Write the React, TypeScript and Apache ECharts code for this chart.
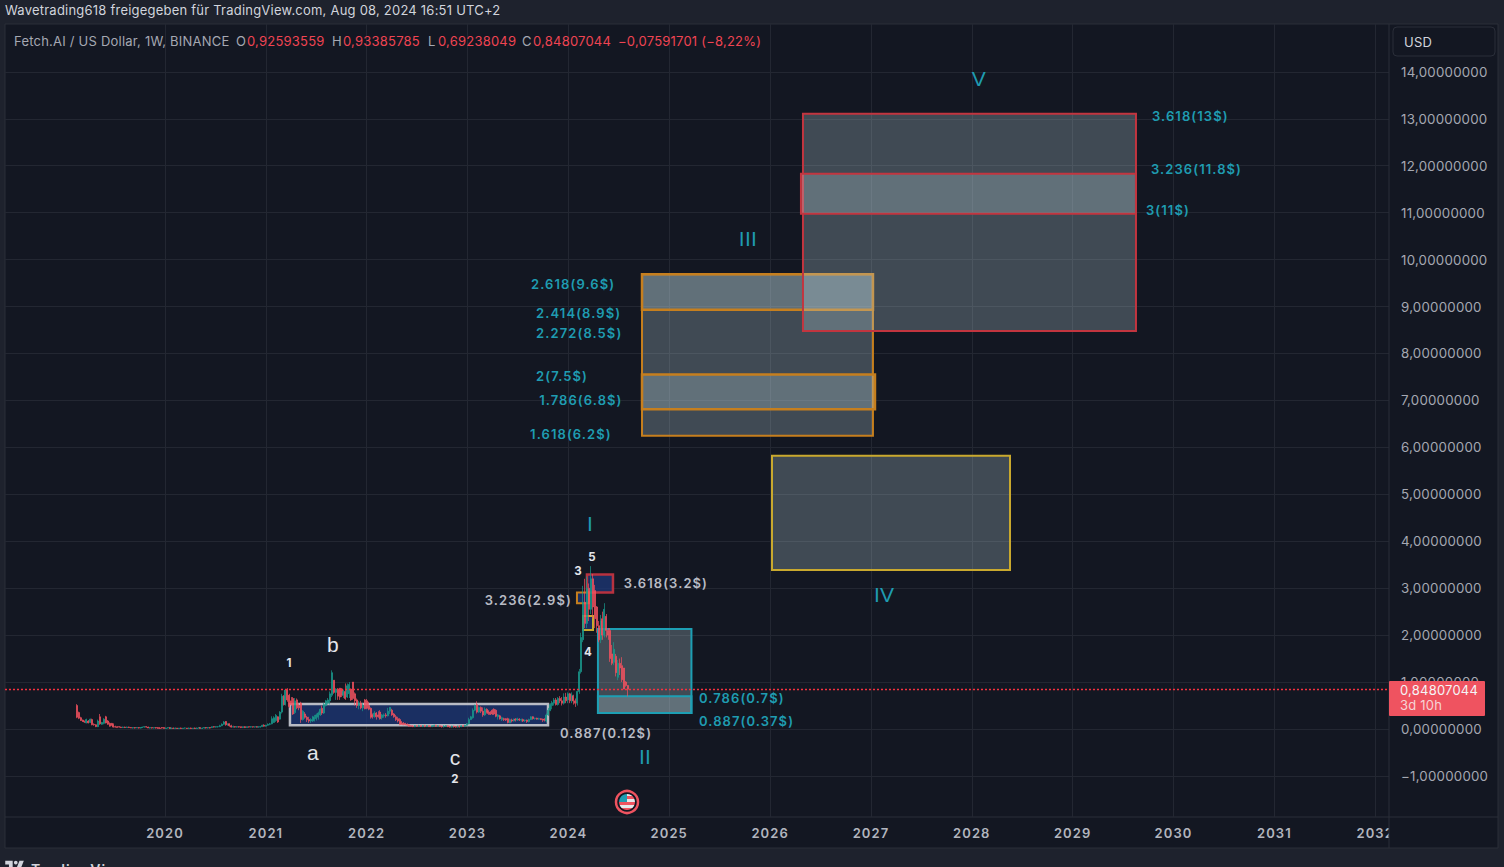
import React, { useEffect, useRef } from "react";
import * as echarts from "echarts";

type Candle = [number, number, number, number]; // open, close, low, high

const firstWeek = 2019.125;
const weekInYears = 7 / 365.25;

const candles2019: Candle[] = [
  [.50,.25,.23,.53],[.35,.23,.21,.37],[.24,.18,.17,.26],[.19,.16,.15,.20],[.16,.15,.13,.18],[.13,.20,.12,.22],[.17,.13,.12,.19],[.14,.21,.13,.22],
  [.20,.09,.08,.22],[.10,.09,.07,.12],[.09,.05,.04,.10],[.05,.17,.04,.20],[.26,.11,.09,.32],[.10,.14,.09,.15],[.12,.21,.10,.23],[.26,.13,.12,.28],
  [.17,.10,.09,.19],[.12,.06,.05,.14],[.12,.08,.07,.13],[.09,.04,.03,.12],[.05,.04,.03,.07],[.05,.03,.03,.06],[.05,.04,.03,.06],[.04,.03,.02,.05],
  [.03,.04,.02,.05],[.04,.03,.02,.05],[.03,.04,.03,.05],[.04,.03,.02,.05],[.03,.02,.02,.04],[.02,.03,.01,.04],[.03,.02,.01,.04],[.02,.03,.02,.04],
  [.03,.02,.01,.04],[.02,.03,.01,.04],[.03,.04,.02,.05],[.04,.05,.03,.06],[.05,.04,.03,.06],[.04,.02,.02,.05],[.02,.03,.01,.04],[.03,.02,.01,.03],
  [.02,.03,.01,.03],[.03,.02,.01,.04],[.03,.01,.01,.04],[.02,.01,.00,.04],[.03,.02,.01,.04],[.03,.01,.01,.04],
];
const candles2020: Candle[] = [
  [.01,.02,.00,.03],[.02,.03,.01,.03],[.03,.01,.00,.04],[.01,.02,.00,.03],[.02,.01,.00,.03],[.01,.02,.00,.03],[.02,.01,.00,.02],[.01,.02,.00,.02],
  [.02,.01,.00,.03],[.01,.02,.00,.02],[.02,.02,.01,.03],[.02,.01,.00,.02],[.01,.02,.00,.03],[.02,.01,.00,.03],[.01,.02,.01,.02],[.02,.01,.00,.03],
  [.01,.02,.00,.03],[.02,.03,.01,.03],[.03,.01,.01,.03],[.01,.02,.00,.03],[.02,.03,.01,.04],[.03,.02,.01,.04],[.02,.03,.01,.04],[.03,.02,.01,.04],
  [.03,.05,.02,.05],[.05,.04,.03,.06],[.04,.05,.03,.06],[.05,.05,.03,.06],[.05,.07,.04,.09],[.07,.10,.06,.12],[.10,.15,.09,.17],[.16,.09,.07,.17],
  [.09,.11,.07,.12],[.11,.07,.05,.12],[.07,.04,.03,.09],[.04,.05,.03,.07],[.05,.04,.03,.06],[.04,.05,.03,.06],[.05,.04,.03,.06],[.05,.03,.02,.05],
  [.03,.05,.02,.05],[.05,.03,.02,.06],[.03,.05,.03,.05],[.05,.04,.03,.05],[.04,.05,.03,.06],[.05,.04,.03,.05],[.04,.05,.03,.05],[.05,.04,.03,.06],
  [.04,.04,.03,.06],[.04,.05,.03,.06],[.05,.08,.05,.09],[.08,.06,.05,.10],
];
const candles2021: Candle[] = [
  [.06,.08,.05,.09],[.08,.10,.07,.12],[.10,.11,.08,.13],[.11,.22,.10,.27],[.14,.24,.13,.27],[.18,.29,.15,.32],[.26,.15,.13,.27],[.21,.36,.20,.38],
  [.36,.70,.33,.75],[.70,.52,.50,.72],[.52,.83,.50,.85],[.83,.62,.58,.87],[.72,.48,.45,.75],[.60,.52,.50,.68],[.65,.32,.30,.68],[.35,.60,.32,.66],
  [.62,.45,.42,.65],[.50,.45,.40,.55],[.55,.20,.13,.58],[.20,.38,.18,.40],[.32,.25,.22,.36],[.25,.20,.15,.28],[.20,.17,.13,.26],[.17,.20,.13,.23],
  [.17,.26,.15,.28],[.20,.25,.16,.30],[.22,.30,.18,.33],[.25,.34,.20,.37],[.30,.42,.28,.44],[.44,.34,.30,.50],[.34,.52,.32,.56],[.50,.60,.48,.62],
  [.55,.62,.52,.66],[.60,.75,.52,.80],[.72,1.20,.68,1.25],[1.04,.78,.75,1.04],[.78,.85,.62,.87],[.85,.70,.62,.87],[.87,.68,.62,.87],[.85,.72,.68,.87],
  [.72,.80,.66,.84],[.80,.65,.62,.97],[.68,.92,.66,.97],[.75,.95,.66,1.00],[.85,.62,.60,.86],[1.00,.65,.62,1.00],[.75,.60,.50,.78],[.62,.50,.45,.65],
  [.50,.55,.42,.60],[.55,.45,.42,.60],[.45,.50,.38,.55],[.62,.43,.42,.64],
];
const candles2022: Candle[] = [
  [.60,.44,.42,.64],[.50,.42,.40,.58],[.44,.25,.22,.46],[.30,.26,.22,.33],[.26,.34,.24,.38],[.34,.26,.20,.36],[.30,.26,.24,.38],[.36,.22,.20,.40],
  [.24,.30,.20,.32],[.28,.30,.24,.33],[.30,.28,.24,.34],[.28,.38,.27,.45],[.38,.46,.32,.47],[.40,.30,.28,.43],[.32,.26,.24,.34],[.26,.20,.17,.30],
  [.22,.17,.14,.26],[.20,.10,.08,.23],[.15,.10,.09,.17],[.13,.09,.08,.15],[.12,.09,.08,.13],[.10,.08,.07,.12],[.09,.06,.05,.10],[.07,.06,.05,.08],
  [.06,.05,.04,.08],[.05,.07,.04,.08],[.07,.06,.05,.08],[.06,.07,.05,.09],[.07,.06,.05,.08],[.06,.07,.04,.08],[.07,.06,.04,.09],[.06,.07,.05,.08],
  [.07,.06,.04,.08],[.06,.05,.04,.07],[.05,.07,.04,.08],[.07,.08,.06,.09],[.08,.06,.05,.09],[.06,.07,.05,.08],[.07,.06,.05,.08],[.06,.05,.03,.07],
  [.05,.06,.03,.08],[.06,.07,.05,.08],[.07,.05,.04,.08],[.05,.04,.03,.07],[.04,.06,.03,.07],[.06,.05,.03,.07],[.05,.04,.03,.06],[.04,.06,.03,.07],
  [.06,.05,.03,.08],[.05,.07,.04,.08],[.07,.06,.05,.09],[.06,.08,.05,.09],
];
const candles2023: Candle[] = [
  [.08,.11,.07,.13],[.11,.20,.10,.24],[.20,.26,.19,.28],[.24,.40,.22,.44],[.40,.50,.38,.52],[.52,.36,.33,.59],[.36,.46,.34,.48],[.46,.38,.34,.48],
  [.38,.30,.26,.46],[.30,.42,.28,.46],[.42,.36,.33,.44],[.38,.33,.30,.40],[.36,.31,.30,.38],[.40,.32,.30,.42],[.42,.32,.30,.44],[.40,.27,.25,.42],
  [.26,.30,.20,.32],[.28,.22,.20,.30],[.20,.24,.17,.26],[.22,.20,.17,.24],[.22,.19,.17,.23],[.22,.14,.12,.24],[.13,.20,.13,.22],[.19,.17,.14,.22],
  [.17,.21,.16,.22],[.21,.19,.16,.23],[.19,.22,.17,.24],[.21,.19,.17,.23],[.19,.20,.16,.22],[.20,.17,.15,.22],[.18,.19,.15,.20],[.19,.16,.13,.20],
  [.16,.20,.14,.22],[.20,.26,.19,.27],[.26,.22,.20,.27],[.22,.23,.20,.24],[.23,.21,.20,.24],[.21,.22,.20,.24],[.22,.20,.19,.23],[.21,.19,.15,.22],
  [.20,.19,.16,.23],[.17,.30,.14,.33],[.30,.40,.28,.45],[.40,.52,.38,.55],[.50,.56,.42,.60],[.55,.62,.50,.66],[.62,.52,.50,.66],[.52,.65,.50,.68],
  [.65,.60,.55,.70],[.60,.55,.50,.68],[.55,.68,.52,.76],[.68,.60,.55,.77],
];
const candles2024: Candle[] = [
  [.62,.75,.55,.78],[.75,.60,.55,.77],[.60,.72,.55,.78],[.70,.60,.52,.73],[.60,.55,.47,.65],[.55,.80,.50,.82],[.80,1.22,.75,1.28],[1.22,1.95,1.18,2.05],
  [1.90,2.70,1.85,3.05],[2.70,2.25,2.15,3.20],[2.25,3.00,2.15,3.25],[3.00,2.55,2.30,3.10],[2.55,3.20,2.45,3.47],[3.20,2.60,2.35,3.30],[2.95,2.35,2.15,3.07],[2.60,2.20,2.05,2.62],
  [2.20,1.90,1.85,2.30],[1.90,2.30,1.83,2.43],[2.35,2.00,1.90,2.50],[2.00,2.55,1.95,2.68],[2.40,2.10,1.95,2.45],[2.10,2.00,1.90,2.15],[2.10,1.50,1.43,2.15],[1.60,1.40,1.36,1.79],
  [1.42,1.70,1.36,1.85],[1.55,1.20,1.12,1.60],[1.10,1.40,1.04,1.47],[1.40,1.30,1.15,1.50],[1.35,1.05,1.00,1.53],[1.30,.85,.85,1.30],[1.00,.926,.90,1.02],[.92593559,.84807044,.69238049,.93385785],
];
const candles: Candle[] = [...candles2019, ...candles2020, ...candles2021, ...candles2022, ...candles2023, ...candles2024];

const lastPrice = 0.84807044;
const yearTicks = [2020, 2021, 2022, 2023, 2024, 2025, 2026, 2027, 2028, 2029, 2030, 2031, 2032];
const priceTicks = [-1, 0, 1, 2, 3, 4, 5, 6, 7, 8, 9, 10, 11, 12, 13, 14];

// x0 (year), x1 (year), top price, bottom price
const boxNavy = [2021.239, 2023.798, 0.53, 0.08];
const boxRedSmall = [2024.184, 2024.442, 3.29, 2.91];
const boxOrangeSmall = [2024.085, 2024.204, 2.91, 2.68];
const boxYellowSmall = [2024.145, 2024.244, 2.41, 2.11];
const boxTeal = [2024.293, 2025.22, 2.13, 0.34];
const boxTealLow = [2024.293, 2025.22, 0.70, 0.34];
const boxYellow = [2026.019, 2028.379, 5.82, 3.39];
const boxOrange = [2024.73, 2027.02, 9.69, 6.25];
const boxOrangeTop = [2024.73, 2027.02, 9.69, 8.93];
const boxOrangeMid = [2024.73, 2027.04, 7.55, 6.81];
const boxRed = [2026.326, 2029.628, 13.11, 8.48];
const boxRedMid = [2026.306, 2029.628, 11.83, 10.98];

const navyFill = "rgba(29,56,120,0.75)";
const glass = "rgba(190,215,222,0.27)";
const boxRows: [number[], string, string, number][] = [
  [boxNavy, navyFill, "#b8bbc4", 2.5],
  [boxTeal, glass, "#1d9fb4", 2],
  [boxTealLow, glass, "#1d9fb4", 2],
  [boxYellow, glass, "#c9a92e", 2],
  [boxOrange, glass, "#c67f1e", 2],
  [boxOrangeTop, glass, "#c67f1e", 2.5],
  [boxOrangeMid, glass, "#c67f1e", 2.5],
  [boxRed, glass, "#c2353f", 2],
  [boxRedMid, glass, "#c2353f", 2],
  [boxRedSmall, navyFill, "#b8323f", 2.5],
  [boxOrangeSmall, navyFill, "#c67f1e", 2],
  [boxYellowSmall, navyFill, "#c9a92e", 2],
];

const TEAL = "#1f9cb1";
const GREY = "#b8bbc4";
const WHITE = "#e3e5ea";
// year, price, text, colour, font, anchor
const boldFont = "600 13px Inter";
const numFont = "700 11.5px Inter";
const waveFont = "400 21px 'Liberation Sans'";
const labelRows: [number, number, string, string, string, string][] = [
  [2021.23, 1.41, "1", WHITE, numFont, "center"],
  [2021.666, 1.79, "b", WHITE, waveFont, "center"],
  [2021.468, -0.51, "a", WHITE, waveFont, "center"],
  [2022.876, -0.60, "c", WHITE, waveFont, "center"],
  [2022.876, -1.07, "2", WHITE, numFont, "center"],
  [2024.095, 3.37, "3", WHITE, numFont, "center"],
  [2024.234, 3.67, "5", WHITE, numFont, "center"],
  [2024.194, 1.64, "4", WHITE, numFont, "center"],
  [2024.214, 4.37, "I", TEAL, waveFont, "center"],
  [2024.76, -0.58, "II", TEAL, waveFont, "center"],
  [2025.78, 10.44, "III", TEAL, waveFont, "center"],
  [2027.13, 2.87, "IV", TEAL, waveFont, "center"],
  [2028.07, 13.85, "V", TEAL, waveFont, "center"],
  [2029.787, 13.06, "3.618(13$)", TEAL, boldFont, "left"],
  [2029.777, 11.93, "3.236(11.8$)", TEAL, boldFont, "left"],
  [2029.727, 11.06, "3(11$)", TEAL, boldFont, "left"],
  [2023.63, 9.48, "2.618(9.6$)", TEAL, boldFont, "left"],
  [2023.68, 8.86, "2.414(8.9$)", TEAL, boldFont, "left"],
  [2023.68, 8.44, "2.272(8.5$)", TEAL, boldFont, "left"],
  [2023.68, 7.52, "2(7.5$)", TEAL, boldFont, "left"],
  [2023.71, 7.01, "1.786(6.8$)", TEAL, boldFont, "left"],
  [2023.62, 6.28, "1.618(6.2$)", TEAL, boldFont, "left"],
  [2024.55, 3.11, "3.618(3.2$)", GREY, boldFont, "left"],
  [2023.17, 2.75, "3.236(2.9$)", GREY, boldFont, "left"],
  [2023.917, -0.09, "0.887(0.12$)", GREY, boldFont, "left"],
  [2025.295, 0.66, "0.786(0.7$)", TEAL, boldFont, "left"],
  [2025.295, 0.17, "0.887(0.37$)", TEAL, boldFont, "left"],
];

const headerLeft = "Wavetrading618 freigegeben für TradingView.com, Aug 08, 2024 16:51 UTC+2";
const legendItems: [number, string, boolean][] = [
  [14, "Fetch.AI / US Dollar, 1W, BINANCE", false],
  [236, "O", false], [247, "0,92593559", true],
  [332, "H", false], [343, "0,93385785", true],
  [428, "L", false], [438, "0,69238049", true],
  [522, "C", false], [533, "0,84807044", true],
  [618, "−0,07591701 (−8,22%)", true],
];

const fmtPrice = (v: number) => (v < 0 ? "−" : "") + Math.abs(v).toFixed(8).replace(".", ",");

const TV_LOGO = "M14 6H2v6h6v9h6V6Zm12 15h-7l6-15h7l-6 15Zm-7-9a3 3 0 1 0 0-6 3 3 0 0 0 0 6Z";

const spacingCss = `
  #fet-chart svg text { letter-spacing: 0.22px; }
  #fet-chart svg text[style*="600"] { letter-spacing: 1.08px; }
`;

export default function App() {
  const ref = useRef<HTMLDivElement>(null);
  useEffect(() => {
    echarts.graphic.registerShape("tvLogo", echarts.graphic.extendPath(TV_LOGO as any, {}) as any);
    const chart = echarts.init(ref.current!, undefined, { renderer: "svg" });
    const seriesData = candles.map((c, i) => [firstWeek + i * weekInYears, c[0], c[1], c[2], c[3]]);
    const t = (x: number, y: number, text: string, fill: string, font: string, z = 6, align = "left") => ({
      type: "text", x, y, z, silent: true,
      style: { text, fill, font, textAlign: align, textVerticalAlign: "middle" },
    });
    const option: any = {
      animation: false,
      backgroundColor: "#1e222d",
      grid: { left: 5, right: 115, top: 24, bottom: 50 },
      xAxis: {
        type: "value", min: 2018.4135, max: 2032.137, z: 0,
        axisLine: { show: false },
        axisTick: { show: false, customValues: yearTicks },
        axisLabel: {
          customValues: yearTicks, formatter: (v: number) => String(v),
          color: "#b2b5be", fontFamily: "Inter", fontSize: 13, fontWeight: 600, margin: 9,
          showMinLabel: true, showMaxLabel: true, hideOverlap: false, alignMinLabel: "center", alignMaxLabel: "center",
        },
        splitLine: { show: true, lineStyle: { color: "#232732", width: 1 } },
      },
      yAxis: {
        type: "value", position: "right", min: -1.875, max: 15.02, z: 0,
        axisLine: { show: false },
        axisTick: { show: false, customValues: priceTicks },
        axisLabel: {
          customValues: priceTicks, formatter: fmtPrice, margin: 12,
          color: "#a5a8b2", fontFamily: "Inter", fontSize: 13.3,
        },
        splitLine: { show: true, lineStyle: { color: "#232732", width: 1 } },
      },
      series: [
        {
          type: "custom", z: 1, silent: true, clip: false,
          data: boxRows.map((r) => r[0]),
          encode: { x: [0, 1], y: [2, 3] },
          renderItem: (params: any, api: any) => {
            const p0 = api.coord([api.value(0), api.value(2)]);
            const p1 = api.coord([api.value(1), api.value(3)]);
            const row = boxRows[params.dataIndex];
            return {
              type: "rect",
              shape: { x: p0[0], y: p0[1], width: p1[0] - p0[0], height: p1[1] - p0[1] },
              style: { fill: row[1], stroke: row[2], lineWidth: row[3] },
            };
          },
        },
        {
          type: "candlestick", z: 2, silent: true, barWidth: 1.5,
          data: seriesData,
          encode: { x: 0, y: [1, 2, 3, 4] },
          itemStyle: { color: "#1a9a8c", color0: "#f2525f", borderColor: "#1a9a8c", borderColor0: "#f2525f", borderWidth: 0.7 },
          markLine: {
            silent: true, symbol: "none", animation: false,
            label: { show: false },
            lineStyle: { color: "#f8303f", type: [2, 2], width: 1.4 },
            data: [{ yAxis: lastPrice }],
          },
        },
        {
          type: "custom", z: 4, silent: true, clip: false,
          data: labelRows.map((r) => [r[0], r[1]]),
          encode: { x: 0, y: 1 },
          renderItem: (params: any, api: any) => {
            const p = api.coord([api.value(0), api.value(1)]);
            const row = labelRows[params.dataIndex];
            return {
              type: "text", x: p[0], y: p[1],
              style: { text: row[2], fill: row[3], font: row[4], textAlign: row[5], textVerticalAlign: "middle" },
            };
          },
        },
      ],
      graphic: [
        // panel behind the plot and the scales
        { type: "rect", z: -5, silent: true, shape: { x: 5, y: 24, width: 1493, height: 824 }, style: { fill: "#131722", stroke: "#2a2e39", lineWidth: 1 } },
        { type: "line", z: 0, silent: true, shape: { x1: 5, y1: 817, x2: 1498, y2: 817 }, style: { stroke: "#2a2e39", lineWidth: 1 } },
        // hides the part of the last year label that runs into the price scale
        { type: "rect", z: 5, silent: true, shape: { x: 1389, y: 818, width: 108, height: 29 }, style: { fill: "#131722" } },
        { type: "line", z: 6, silent: true, shape: { x1: 1389, y1: 24, x2: 1389, y2: 848 }, style: { stroke: "#2a2e39", lineWidth: 1 } },
        t(5, 10, headerLeft, "#d1d4dc", "400 13px Inter"),
        ...legendItems.map(([x, s, red]) => t(x, 41, s, red ? "#ef4452" : "#a5a8b2", "400 13px Inter")),
        { type: "rect", z: 20, silent: true, shape: { x: 1393, y: 27, width: 102, height: 29, r: 4 }, style: { fill: "#131722", stroke: "#2a2e39", lineWidth: 1 } },
        t(1404, 42, "USD", "#d1d4dc", "400 13px Inter", 21),
        { type: "rect", z: 20, silent: true, shape: { x: 1389, y: 681, width: 96, height: 35, r: 1 }, style: { fill: "#ef5360" } },
        t(1400, 690, fmtPrice(lastPrice), "#f4f5f7", "400 13px Inter", 21),
        t(1400, 705, "3d 10h", "#f6d3d6", "400 13px Inter", 21),
        // flag marker
        { type: "circle", z: 7, silent: true, shape: { cx: 627, cy: 802, r: 9 }, style: { fill: "#e6e8ec" } },
        { type: "rect", z: 7, silent: true, shape: { x: 618, y: 802, width: 18, height: 3 }, style: { fill: "#ef5360" } },
        { type: "rect", z: 7, silent: true, shape: { x: 619, y: 808, width: 16, height: 3 }, style: { fill: "#ef5360" } },
        { type: "rect", z: 7, silent: true, shape: { x: 627, y: 796, width: 8, height: 3 }, style: { fill: "#ef5360" } },
        { type: "rect", z: 7, silent: true, shape: { x: 619, y: 794, width: 8, height: 8 }, style: { fill: "#1f9cb1" } },
        { type: "ring", z: 7, silent: true, shape: { cx: 627, cy: 802, r: 12, r0: 8 }, style: { fill: "#131722" } },
        { type: "circle", z: 8, silent: true, shape: { cx: 627, cy: 802, r: 11 }, style: { fill: "none", stroke: "#ef5360", lineWidth: 2.5 } },
        // footer
        { type: "tvLogo", z: 6, x: 4, y: 857, scaleX: 0.62, scaleY: 0.62, silent: true, style: { fill: "#d1d4dc" } },
        t(31, 869, "TradingView", "#d1d4dc", "600 14px Inter"),
      ],
    };
    chart.setOption(option);
    return () => chart.dispose();
  }, []);
  return (
    <>
      <style>{spacingCss}</style>
      <div id="fet-chart" ref={ref} style={{ position: "fixed", left: 0, top: 0, width: 1504, height: 867 }} />
    </>
  );
}
